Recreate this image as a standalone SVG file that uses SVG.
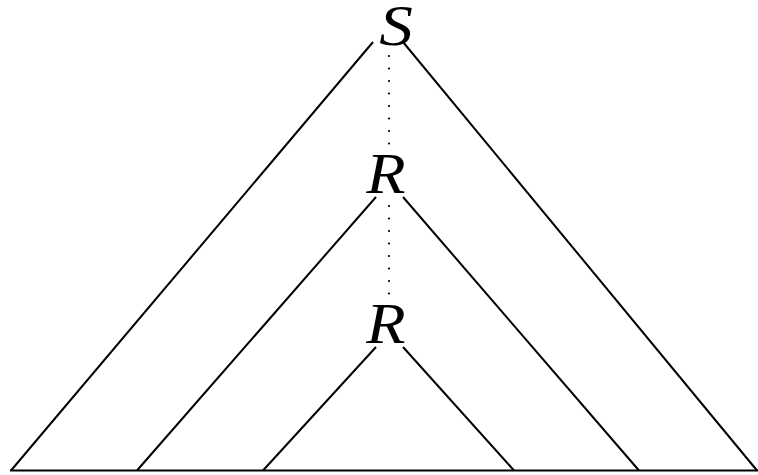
<svg xmlns="http://www.w3.org/2000/svg" width="758" height="475" viewBox="0 0 758 475">
<style>
.l{stroke:#000;stroke-width:2;fill:none}
.d{stroke:#000;stroke-width:2.2;stroke-linecap:round;stroke-dasharray:0 12.5;fill:none}
.t{font-family:"Liberation Serif",serif;font-style:italic;font-size:56px;text-anchor:middle;fill:#000}
</style>
<rect width="758" height="475" fill="#fff"/>
<g id="connectors">
<line class="l" x1="10" y1="470.5" x2="758" y2="470.5"/>
<line class="l" x1="373" y1="42" x2="11" y2="470.5"/>
<line class="l" x1="403" y1="42" x2="757" y2="470.5"/>
<line class="l" x1="376" y1="197" x2="137" y2="470.5"/>
<line class="l" x1="403" y1="197" x2="639" y2="470.5"/>
<line class="l" x1="376" y1="347" x2="263" y2="470.5"/>
<line class="l" x1="403" y1="347" x2="514" y2="470.5"/>
<line class="d" x1="389" y1="56" x2="389" y2="145"/>
<line class="d" x1="389" y1="206" x2="389" y2="296"/>
</g>
<g id="S" transform="translate(396,45) scale(1.2,1)"><text class="t" x="0" y="0" font-size="51">S</text></g>
<g id="R1" transform="translate(386,193) scale(1.15,1)"><text class="t" x="0" y="0">R</text></g>
<g id="R2" transform="translate(386,343) scale(1.15,1)"><text class="t" x="0" y="0">R</text></g>
</svg>
